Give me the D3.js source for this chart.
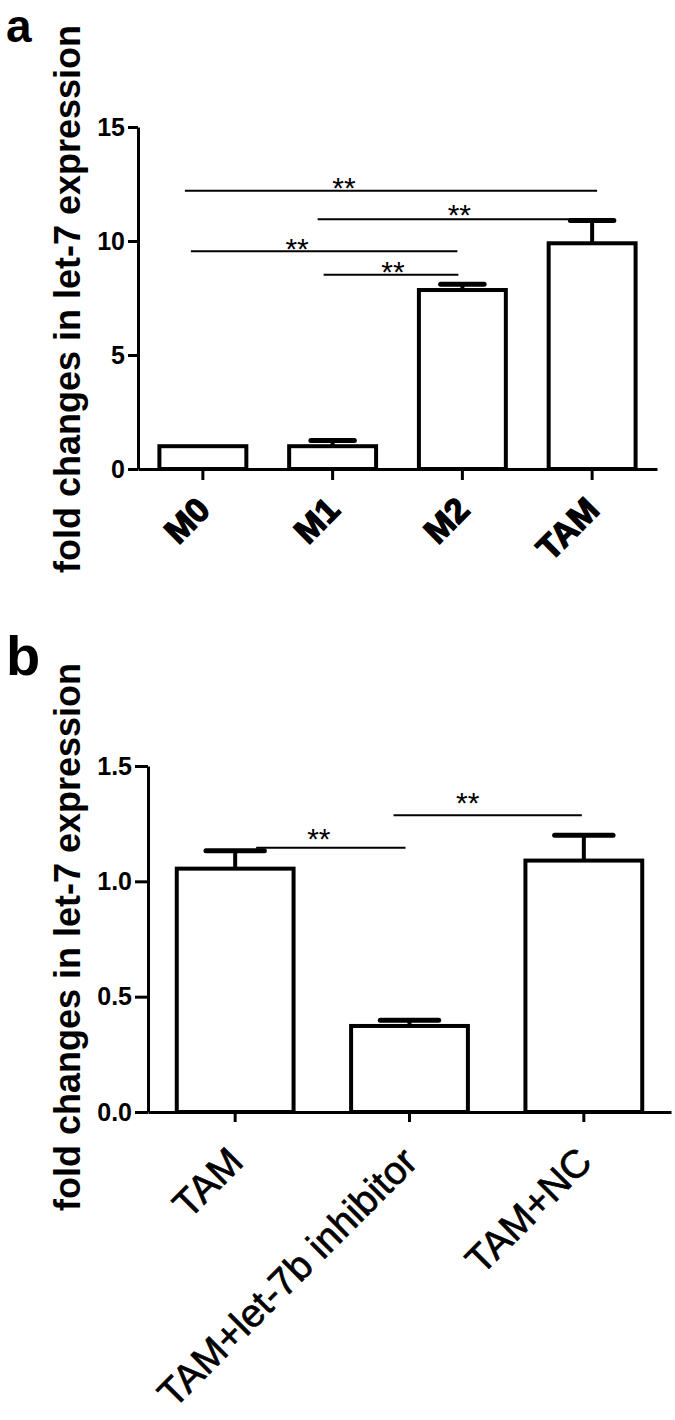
<!DOCTYPE html>
<html>
<head>
<meta charset="utf-8">
<script src="https://cdn.jsdelivr.net/npm/d3@7"></script>
<style>
body { margin: 0; background: #fff; }
svg text { font-family: "Liberation Sans", Arial, sans-serif; fill: #000; }
</style>
</head>
<body>
<svg id="fig" width="675" height="1420"></svg>
<script>
// panel a values
const catsA = ['M0', 'M1', 'M2', 'TAM'];
const meanA = [1.0, 1.0, 7.85, 9.9];
const errA = [0, 0.25, 0.25, 1.0];
const ticksA = [0, 5, 10, 15];
const sigA = [
    {from: 'M0', to: 'TAM', level: 12.2},
    {from: 'M1', to: 'TAM', level: 10.95},
    {from: 'M0', to: 'M2', level: 9.55},
    {from: 'M1', to: 'M2', level: 8.52}
];

// panel b values
const catsB = ['TAM', 'TAM+let-7b inhibitor', 'TAM+NC'];
const meanB = [1.055, 0.373, 1.09];
const errB = [0.078, 0.025, 0.11];
const ticksB = [0, 0.5, 1.0, 1.5];
const sigB = [
    {from: 'TAM', to: 'TAM+let-7b inhibitor', level: 1.146},
    {from: 'TAM+let-7b inhibitor', to: 'TAM+NC', level: 1.287}
];

const yTitle = 'fold changes in let-7 expression';

// layout of each panel (pixels)
const panels = [
    {
        tag: 'a', tagY: 42, tagSize: 46, cats: catsA, mean: meanA, err: errA, ticks: ticksA, sig: sigA,
        fmt: d3.format('d'), max: 15,
        left: 138, right: 657, top: 127, base: 469, titleY: 299,
        tickLen: 10, xTick: 11,
        lab: {size: 34, weight: 'bold', stroke: 1.4, dx: 9, dy: 43},
        nudge: [
            {x0: -18, x1: 5, sx: -47, sy: -10},
            {x0: -15, x1: 21, sx: -6, sy: -11},
            {x0: -12, x1: -5, sx: -27, sy: -9},
            {x0: -9, x1: -4, sx: 2, sy: -10}
        ]
    },
    {
        tag: 'b', tagY: 675, tagSize: 56, cats: catsB, mean: meanB, err: errB, ticks: ticksB, sig: sigB,
        fmt: d3.format('.1f'), max: 1.5,
        left: 148, right: 671, top: 766, base: 1112, titleY: 937,
        tickLen: 13, xTick: 10,
        lab: {size: 39, weight: 'normal', stroke: 0.7, dx: 10, dy: 52},
        nudge: [
            {x0: 21, x1: -4, sx: -12, sy: -16},
            {x0: -16, x1: -2, sx: -20, sy: -19}
        ]
    }
];

const svg = d3.select('#fig');
svg.append('rect').attr('width', 675).attr('height', 1420).attr('fill', '#fff');

panels.forEach(p => {
    const g = svg.append('g');

    const x = d3.scaleBand()
        .domain(p.cats)
        .range([p.left, p.right])
        .paddingInner(0.33)
        .paddingOuter(0.165);

    const y = d3.scaleLinear()
        .domain([0, p.max])
        .range([p.base, p.top]);

    // panel letter
    g.append('text')
        .attr('x', 6)
        .attr('y', p.tagY)
        .style('font-size', p.tagSize + 'px')
        .style('font-weight', 'bold')
        .text(p.tag);

    // y title
    g.append('text')
        .attr('transform', 'translate(80,' + p.titleY + ') rotate(-90)')
        .attr('text-anchor', 'middle')
        .style('font-size', '36px')
        .style('font-weight', 'bold')
        .text(yTitle);

    // bars
    g.selectAll('rect.bar')
        .data(p.mean)
        .enter()
        .append('rect')
        .attr('class', 'bar')
        .attr('x', (_, i) => x(p.cats[i]))
        .attr('y', d => y(d))
        .attr('width', x.bandwidth())
        .attr('height', d => p.base - y(d))
        .attr('fill', '#fff')
        .attr('stroke', '#000')
        .attr('stroke-width', 4);

    // error bars (upper only)
    const cx = i => x(p.cats[i]) + x.bandwidth() / 2;
    const withErr = p.mean.map((d, i) => i).filter(i => p.err[i] > 0);
    g.selectAll('line.err')
        .data(withErr)
        .enter()
        .append('line')
        .attr('class', 'err')
        .attr('x1', i => cx(i))
        .attr('x2', i => cx(i))
        .attr('y1', i => y(p.mean[i]))
        .attr('y2', i => y(p.mean[i] + p.err[i]))
        .attr('stroke', '#000')
        .attr('stroke-width', 4);
    g.selectAll('line.cap')
        .data(withErr)
        .enter()
        .append('line')
        .attr('class', 'cap')
        .attr('x1', i => cx(i) - x.bandwidth() / 4)
        .attr('x2', i => cx(i) + x.bandwidth() / 4)
        .attr('y1', i => y(p.mean[i] + p.err[i]))
        .attr('y2', i => y(p.mean[i] + p.err[i]))
        .attr('stroke', '#000')
        .attr('stroke-width', 5)
        .attr('stroke-linecap', 'round');

    // axes
    const yAxis = d3.axisLeft(y)
        .tickValues(p.ticks)
        .tickFormat(p.fmt)
        .tickSize(p.tickLen)
        .tickSizeOuter(0)
        .tickPadding(3);
    const ya = g.append('g')
        .attr('transform', 'translate(' + p.left + ',0)')
        .call(yAxis);
    ya.select('.domain').attr('stroke-width', 3);
    ya.selectAll('.tick line').attr('stroke-width', 3);
    ya.selectAll('.tick text')
        .style('font-size', '25px')
        .style('font-weight', 'bold')
        .style('font-family', '"Liberation Sans", Arial, sans-serif')
        .attr('fill', '#000');

    const xAxis = d3.axisBottom(x)
        .tickSize(p.xTick)
        .tickSizeOuter(0);
    const xa = g.append('g')
        .attr('transform', 'translate(0,' + p.base + ')')
        .call(xAxis);
    xa.select('.domain').attr('stroke-width', 3);
    xa.selectAll('.tick line').attr('stroke-width', 3);
    xa.selectAll('.tick text')
        .attr('x', 0)
        .attr('y', 0)
        .attr('dy', 0)
        .attr('text-anchor', 'end')
        .attr('transform', 'translate(' + p.lab.dx + ',' + p.lab.dy + ') rotate(-45)')
        .style('font-size', p.lab.size + 'px')
        .style('font-weight', p.lab.weight)
        .style('font-family', '"Liberation Sans", Arial, sans-serif')
        .attr('fill', '#000')
        .attr('stroke', '#000')
        .attr('stroke-width', p.lab.stroke);

    // significance lines
    p.sig.forEach((s, i) => {
        const n = p.nudge[i];
        const xa0 = x(s.from) + x.bandwidth() / 2 + n.x0;
        const xa1 = x(s.to) + x.bandwidth() / 2 + n.x1;
        const yy = y(s.level);
        g.append('line')
            .attr('x1', xa0).attr('x2', xa1)
            .attr('y1', yy).attr('y2', yy)
            .attr('stroke', '#000')
            .attr('stroke-width', 2);
        g.append('text')
            .attr('x', (xa0 + xa1) / 2 + n.sx)
            .attr('y', yy + n.sy + 17)
            .attr('text-anchor', 'middle')
            .style('font-size', '30px')
            .text('**');
    });
});
</script>
</body>
</html>
